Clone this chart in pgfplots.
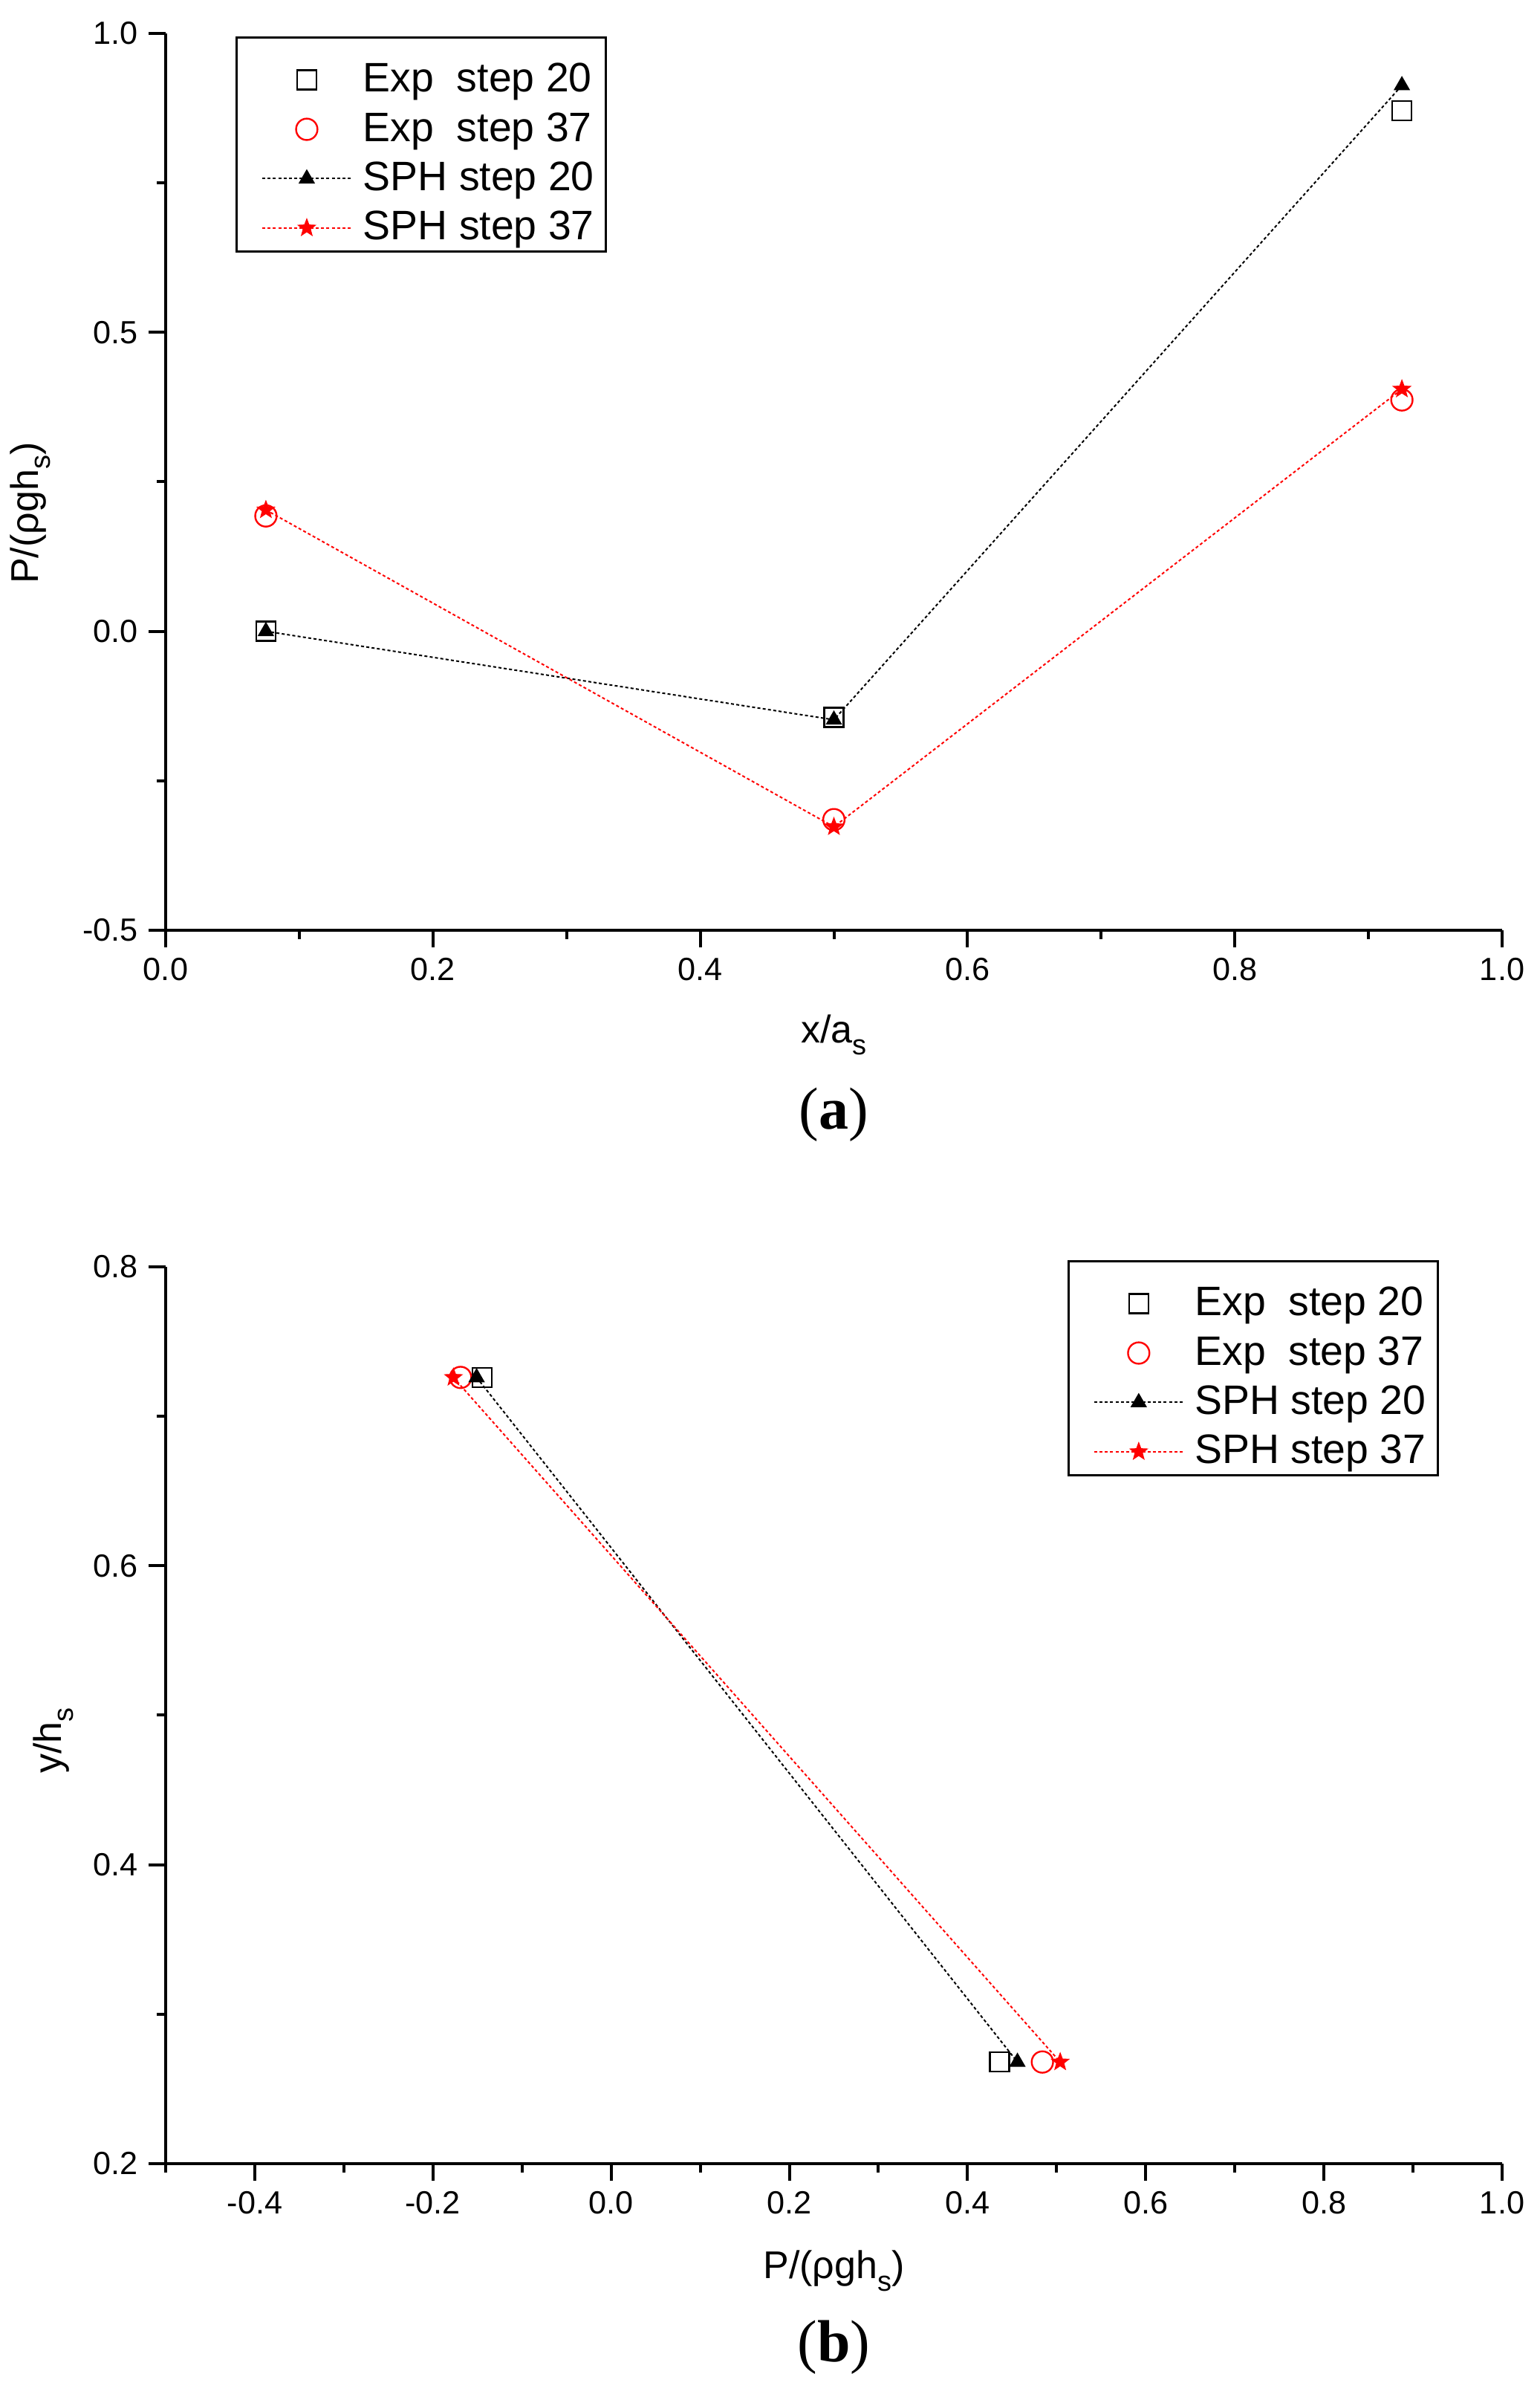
\documentclass[border=0pt]{standalone}
\usepackage{fontspec}
\setmainfont{Liberation Sans}
\newfontfamily\seriffont{Liberation Serif}
\usepackage{pgfplots}
\pgfplotsset{compat=1.18}
\newcommand{\sub}[1]{\raisebox{-0.6ex}{\fontsize{9.5}{10}\selectfont #1}}
\definecolor{myred}{RGB}{255,0,0}
\pgfdeclareplotmark{fstar}{%
  \pgfpathmoveto{\pgfpointpolar{90}{\pgfplotmarksize}}%
  \pgfpathlineto{\pgfpointpolar{126}{0.42\pgfplotmarksize}}%
  \pgfpathlineto{\pgfpointpolar{162}{\pgfplotmarksize}}%
  \pgfpathlineto{\pgfpointpolar{198}{0.42\pgfplotmarksize}}%
  \pgfpathlineto{\pgfpointpolar{234}{\pgfplotmarksize}}%
  \pgfpathlineto{\pgfpointpolar{270}{0.42\pgfplotmarksize}}%
  \pgfpathlineto{\pgfpointpolar{306}{\pgfplotmarksize}}%
  \pgfpathlineto{\pgfpointpolar{342}{0.42\pgfplotmarksize}}%
  \pgfpathlineto{\pgfpointpolar{18}{\pgfplotmarksize}}%
  \pgfpathlineto{\pgfpointpolar{54}{0.42\pgfplotmarksize}}%
  \pgfpathclose
  \pgfusepathqfillstroke}
\pgfplotsset{
  myaxis/.style={
    scale only axis, width=449.75pt, height=301.75pt,
    axis x line*=bottom, axis y line*=left,
    axis line style={line width=1pt,-},
    tick align=outside,
    major tick length=5.75pt, minor tick length=3pt,
    tick style={line width=1pt,black},
    tick label style={font=\fontsize{10.8}{12}\selectfont},
    label style={font=\fontsize{13}{15}\selectfont},
    clip=false,
    legend style={draw=black, line width=0.75pt, font=\fontsize{13.85}{16}\selectfont,
      row sep=0pt, column sep=3.7pt, inner xsep=4pt, inner ysep=2.75pt,
      nodes={inner xsep=0pt, inner ysep=0pt, text height=15.55pt, text depth=1.05pt}},
    legend cell align=left,
    legend image code/.code={\path[draw=none,fill=none] (0pt,0pt) -- (34.5pt,0pt);
      \draw[mark repeat=2,mark phase=2,#1] plot coordinates {(4.5pt,-3.25pt) (19.5pt,-3.25pt) (34.5pt,-3.25pt)};},
  },
  exp20/.style={only marks, mark=square, mark size=3.25pt, black, mark options={line width=0.6pt, solid},
    legend image code/.code={\path[draw=none,fill=none] (0pt,0pt) -- (34.5pt,0pt);
      \draw[##1] plot coordinates {(19.5pt,-3.25pt)};}},
  exp37/.style={only marks, mark=o, mark size=3.6pt, myred, mark options={line width=0.6pt, solid},
    legend image code/.code={\path[draw=none,fill=none] (0pt,0pt) -- (34.5pt,0pt);
      \draw[##1] plot coordinates {(19.5pt,-3.25pt)};}},
  sph20/.style={black, line width=0.5pt, dash pattern=on 1pt off 0.8pt, mark=triangle*, mark size=2.7pt, mark options={solid}},
  sph37/.style={myred, line width=0.5pt, dash pattern=on 1pt off 0.8pt, mark=fstar, mark size=3pt, mark options={solid, line width=0.3pt, fill=myred}},
}
\begin{document}
\begin{tikzpicture}[x=1pt,y=1pt]
\path[use as bounding box] (0,0) rectangle (518.25,805.5);
% ---------- (a)
\begin{axis}[myaxis, at={(55.75pt,492.5pt)}, anchor=south west,
  xmin=0, xmax=1, ymin=-0.5, ymax=1,
  xtick={0,0.2,0.4,0.6,0.8,1.0}, xticklabels={0.0,0.2,0.4,0.6,0.8,1.0},
  minor xtick={0.1,0.3,0.5,0.7,0.9},
  ytick={-0.5,0,0.5,1.0}, yticklabels={-0.5,0.0,0.5,1.0},
  minor ytick={-0.25,0.25,0.75},
  xlabel={x/a\sub{s}}, ylabel={P/(ρgh\sub{s})},
  xlabel style={at={(axis description cs:0.5,-0.1168)}, anchor=center},
  ylabel style={at={(axis description cs:-0.1012,0.465)}, anchor=center},
  legend style={at={(0.0525,0.9967)}, anchor=north west},
]
\addplot[exp20] coordinates {(0.075,0.0) (0.5,-0.144) (0.925,0.871)};
\addlegendentry{Exp\ \ step 20}
\addplot[exp37] coordinates {(0.075,0.193) (0.5,-0.315) (0.925,0.387)};
\addlegendentry{Exp\ \ step 37}
\addplot[sph20] coordinates {(0.075,0.0) (0.5,-0.148) (0.925,0.913)};
\addlegendentry{SPH step 20}
\addplot[sph37] coordinates {(0.075,0.203) (0.5,-0.327) (0.925,0.405)};
\addlegendentry{SPH step 37}
\node[font=\seriffont\fontsize{20}{22}\selectfont] at (axis description cs:0.5,-0.2055) {(\textbf{a})};
\end{axis}
% ---------- (b)
\begin{axis}[myaxis, at={(55.75pt,77.5pt)}, anchor=south west,
  xmin=-0.5, xmax=1, ymin=0.2, ymax=0.8,
  xtick={-0.4,-0.2,0,0.2,0.4,0.6,0.8,1.0}, xticklabels={-0.4,-0.2,0.0,0.2,0.4,0.6,0.8,1.0},
  minor xtick={-0.5,-0.3,-0.1,0.1,0.3,0.5,0.7,0.9},
  ytick={0.2,0.4,0.6,0.8}, yticklabels={0.2,0.4,0.6,0.8},
  minor ytick={0.3,0.5,0.7},
  xlabel={P/(ρgh\sub{s})}, ylabel={y/h\sub{s}},
  xlabel style={at={(axis description cs:0.5,-0.1194)}, anchor=center},
  ylabel style={at={(axis description cs:-0.0839,0.472)}, anchor=center},
  legend style={at={(0.675,1.0075)}, anchor=north west},
]
\addplot[exp20] coordinates {(-0.145,0.726) (0.436,0.268)};
\addlegendentry{Exp\ \ step 20}
\addplot[exp37] coordinates {(-0.169,0.726) (0.484,0.268)};
\addlegendentry{Exp\ \ step 37}
\addplot[sph20] coordinates {(-0.151,0.726) (0.456,0.268)};
\addlegendentry{SPH step 20}
\addplot[sph37] coordinates {(-0.177,0.726) (0.504,0.268)};
\addlegendentry{SPH step 37}
\node[font=\seriffont\fontsize{20}{22}\selectfont] at (axis description cs:0.5,-0.2048) {(\textbf{b})};
\end{axis}
\end{tikzpicture}
\end{document}
